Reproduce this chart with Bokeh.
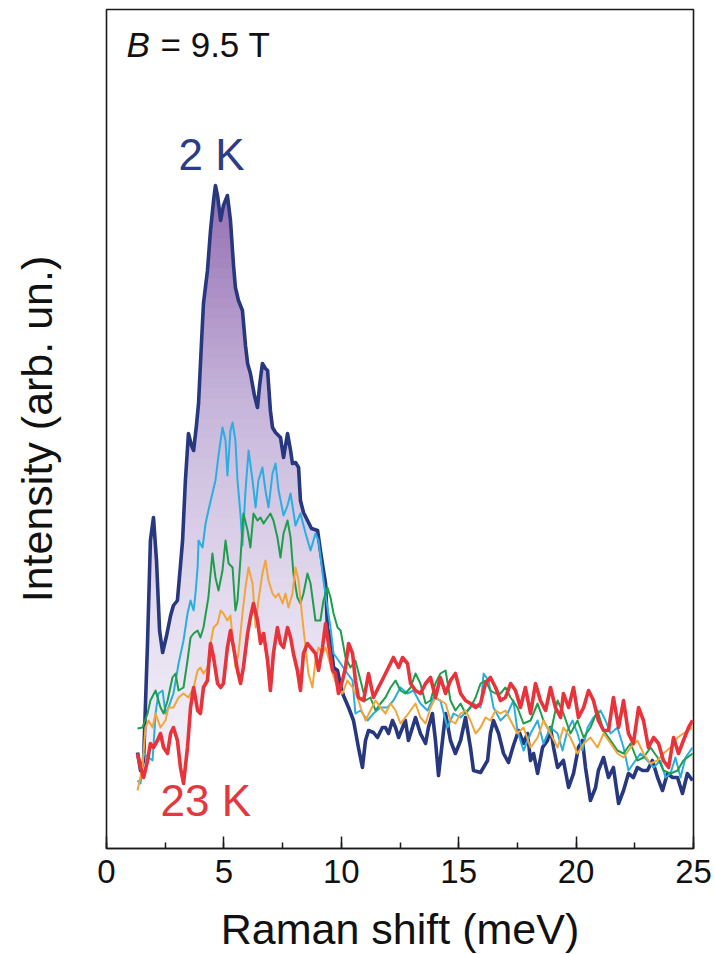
import numpy as np
from bokeh.plotting import figure
from bokeh.layouts import column
from bokeh.models import Range1d, SingleIntervalTicker, FixedTicker
from bokeh.core.properties import value
from bokeh.embed import file_html
from bokeh.resources import INLINE

# Raman spectra at B = 9.5 T: (Raman shift in meV, intensity in arb. units)
SPEC_2K = [
    (1.32, 9.6), (1.45, 7.8), (1.58, 8.8), (1.75, 20.8), (1.87, 30.8), (2.00, 33.1),
    (2.13, 28.8), (2.26, 21.8), (2.39, 19.6), (2.56, 21.3), (2.73, 23.3), (2.85, 24.3),
    (3.02, 24.8), (3.15, 28.3), (3.24, 30.8), (3.36, 36.8), (3.49, 41.5), (3.62, 40.3),
    (3.71, 39.8), (3.83, 42.3), (3.92, 44.5), (4.05, 50.8), (4.13, 54.5), (4.30, 57.8),
    (4.43, 61.8), (4.56, 64.8), (4.64, 66.3), (4.73, 65.3), (4.86, 62.8), (4.98, 64.3),
    (5.15, 65.3), (5.28, 62.8), (5.41, 58.3), (5.49, 56.1), (5.62, 54.8), (5.79, 53.8),
    (5.92, 50.3), (6.01, 48.5), (6.13, 47.5), (6.30, 45.3), (6.43, 44.1), (6.52, 46.3),
    (6.64, 48.5), (6.77, 48.0), (6.86, 47.8), (6.98, 43.8), (7.07, 42.1), (7.20, 41.6),
    (7.41, 41.1), (7.54, 39.1), (7.71, 41.5), (7.84, 39.8), (7.92, 38.5), (8.05, 38.6),
    (8.18, 38.1), (8.26, 34.8), (8.39, 33.6), (8.56, 32.8), (8.73, 32.0), (8.99, 31.8),
    (9.11, 29.8), (9.24, 27.8), (9.33, 26.5), (9.41, 22.1), (9.54, 20.8), (9.67, 18.1),
    (9.84, 17.8), (9.97, 16.3), (10.09, 15.3), (10.31, 14.1), (10.52, 12.8), (10.73, 10.1),
    (10.90, 8.1), (11.03, 10.8), (11.16, 11.8), (11.37, 11.6), (11.54, 11.1), (11.75, 12.1),
    (11.88, 12.1), (12.01, 11.5), (12.18, 12.8), (12.31, 12.1), (12.44, 11.1), (12.61, 12.1),
    (12.73, 12.8), (12.86, 10.8), (13.03, 12.1), (13.16, 13.1), (13.37, 11.5), (13.59, 10.5),
    (13.71, 12.1), (13.88, 13.5), (14.01, 10.8), (14.14, 7.3), (14.31, 10.8), (14.44, 13.5),
    (14.65, 10.8), (14.86, 9.5), (15.08, 10.8), (15.29, 13.1), (15.50, 10.1), (15.63, 7.8),
    (15.93, 7.6), (16.23, 8.8), (16.35, 11.5), (16.48, 12.8), (16.70, 11.5), (16.91, 9.5),
    (17.12, 8.6), (17.33, 10.3), (17.55, 11.8), (17.76, 10.5), (17.93, 11.5), (18.06, 8.8),
    (18.19, 9.5), (18.36, 7.5), (18.57, 10.1), (18.78, 10.8), (18.91, 12.1), (19.04, 10.1),
    (19.21, 8.1), (19.46, 8.8), (19.68, 6.1), (19.89, 7.5), (20.10, 10.1), (20.27, 10.8),
    (20.40, 8.1), (20.61, 4.8), (20.83, 6.1), (20.95, 7.8), (21.17, 9.1), (21.38, 7.1),
    (21.59, 8.1), (21.81, 4.5), (22.02, 5.8), (22.23, 7.5), (22.44, 7.1), (22.61, 8.1),
    (22.83, 7.8), (23.04, 7.8), (23.25, 8.8), (23.47, 7.1), (23.68, 5.8), (23.89, 7.5),
    (24.11, 7.1), (24.32, 7.1), (24.53, 5.5), (24.74, 7.5), (24.96, 6.8),
]

SPEC_CYAN = [
    (1.32, 6.8), (1.45, 6.5), (1.58, 9.5), (1.79, 9.1), (1.96, 8.8), (2.09, 13.5),
    (2.21, 15.5), (2.39, 15.8), (2.51, 13.5), (2.64, 14.1), (2.85, 15.5), (3.07, 18.5),
    (3.28, 20.8), (3.45, 23.5), (3.58, 24.8), (3.71, 23.8), (3.79, 25.5), (3.88, 28.1),
    (3.92, 30.8), (4.09, 30.1), (4.22, 32.5), (4.34, 33.8), (4.51, 35.5), (4.64, 36.8),
    (4.77, 39.3), (4.94, 42.1), (5.07, 40.8), (5.15, 37.3), (5.28, 41.8), (5.37, 42.6),
    (5.49, 40.8), (5.58, 36.8), (5.71, 33.3), (5.79, 30.3), (5.92, 35.8), (6.05, 39.8),
    (6.22, 36.8), (6.35, 34.1), (6.47, 36.8), (6.64, 38.1), (6.77, 35.8), (6.90, 34.1),
    (7.07, 37.5), (7.20, 38.5), (7.33, 35.8), (7.54, 33.3), (7.71, 34.3), (7.84, 35.5),
    (8.05, 32.3), (8.26, 33.5), (8.48, 31.5), (8.69, 29.8), (8.90, 31.5), (9.03, 30.8),
    (9.24, 26.8), (9.41, 24.1), (9.54, 22.1), (9.67, 19.5), (9.97, 18.5), (10.26, 17.5),
    (10.48, 16.8), (10.60, 13.5), (10.82, 13.8), (11.12, 12.8), (11.37, 13.5), (11.67, 14.1),
    (11.97, 14.1), (12.22, 14.8), (12.52, 16.1), (12.82, 15.5), (13.07, 15.8), (13.37, 14.5),
    (13.67, 13.8), (13.93, 15.1), (14.22, 14.8), (14.52, 12.1), (14.78, 13.5), (15.08, 13.1),
    (15.37, 13.8), (15.63, 14.5), (15.93, 14.1), (16.06, 17.5), (16.27, 16.8), (16.48, 14.1),
    (16.78, 12.8), (17.08, 13.5), (17.33, 14.8), (17.50, 11.8), (17.76, 9.8), (18.06, 11.5),
    (18.36, 12.8), (18.61, 10.5), (18.91, 12.1), (19.21, 11.5), (19.42, 9.8), (19.63, 11.8),
    (19.85, 12.8), (20.06, 11.5), (20.27, 9.8), (20.49, 12.1), (20.74, 13.1), (21.04, 13.8),
    (21.25, 12.8), (21.47, 11.5), (21.76, 12.1), (22.02, 10.1), (22.23, 7.8), (22.44, 8.5),
    (22.74, 9.5), (23.04, 8.8), (23.30, 8.1), (23.59, 8.8), (23.81, 7.1), (24.02, 7.5),
    (24.23, 9.1), (24.45, 7.1), (24.66, 9.1), (24.96, 10.1),
]

SPEC_GREEN = [
    (1.32, 12.0), (1.53, 12.1), (1.75, 13.5), (1.87, 14.8), (2.09, 15.8), (2.30, 14.1),
    (2.43, 13.5), (2.60, 14.8), (2.81, 17.1), (2.94, 17.5), (3.07, 15.8), (3.28, 16.1),
    (3.45, 18.8), (3.58, 21.1), (3.71, 21.5), (3.88, 21.8), (4.00, 21.1), (4.13, 22.1),
    (4.34, 25.1), (4.51, 29.5), (4.64, 27.1), (4.77, 25.8), (4.94, 27.8), (5.07, 30.8),
    (5.20, 28.5), (5.37, 28.1), (5.49, 23.8), (5.58, 24.8), (5.71, 29.1), (5.83, 33.5),
    (6.01, 31.8), (6.13, 30.1), (6.26, 33.5), (6.43, 32.8), (6.56, 33.1), (6.69, 32.5),
    (6.86, 33.1), (6.98, 33.5), (7.11, 32.8), (7.28, 31.1), (7.41, 29.1), (7.54, 31.5),
    (7.71, 32.8), (7.84, 31.1), (7.96, 27.5), (8.13, 25.1), (8.26, 24.5), (8.39, 25.5),
    (8.56, 27.5), (8.69, 26.5), (8.90, 22.8), (9.11, 22.8), (9.24, 24.8), (9.41, 26.1),
    (9.54, 25.1), (9.67, 23.5), (9.84, 22.1), (9.97, 21.8), (10.18, 19.1), (10.39, 18.1),
    (10.60, 18.8), (10.82, 16.8), (11.03, 14.8), (11.24, 15.1), (11.46, 13.8), (11.67, 14.5),
    (11.88, 15.1), (12.10, 16.1), (12.31, 16.8), (12.52, 15.8), (12.73, 15.5), (12.95, 16.1),
    (13.16, 17.5), (13.37, 16.5), (13.59, 14.5), (13.80, 14.8), (14.01, 16.5), (14.22, 17.5),
    (14.44, 17.8), (14.65, 14.8), (14.86, 13.8), (15.08, 14.5), (15.29, 13.5), (15.50, 14.1),
    (15.72, 15.1), (15.93, 16.5), (16.14, 16.8), (16.35, 15.8), (16.57, 15.5), (16.78, 15.5),
    (16.99, 16.1), (17.21, 15.1), (17.50, 14.1), (17.76, 12.5), (18.06, 12.8), (18.36, 14.5),
    (18.61, 12.8), (18.91, 11.5), (19.21, 14.8), (19.46, 13.5), (19.76, 11.5), (20.06, 12.8),
    (20.32, 11.1), (20.61, 12.1), (20.91, 13.8), (21.17, 11.8), (21.47, 10.8), (21.76, 9.8),
    (22.02, 9.5), (22.32, 10.5), (22.61, 8.8), (22.87, 9.1), (23.17, 10.1), (23.47, 9.1),
    (23.72, 7.8), (24.02, 7.5), (24.32, 7.8), (24.57, 8.8), (24.96, 9.5),
]

SPEC_ORANGE = [
    (1.32, 5.8), (1.53, 8.1), (1.66, 12.1), (1.79, 12.8), (1.96, 12.1), (2.09, 13.5),
    (2.30, 12.1), (2.51, 12.8), (2.64, 14.1), (2.85, 14.1), (3.07, 15.1), (3.28, 15.5),
    (3.49, 15.1), (3.71, 16.1), (3.88, 17.8), (4.00, 18.1), (4.13, 17.5), (4.30, 18.1),
    (4.43, 20.5), (4.56, 22.1), (4.73, 22.5), (4.86, 23.8), (4.98, 23.5), (5.15, 22.8),
    (5.28, 23.3), (5.49, 18.1), (5.62, 19.5), (5.79, 23.5), (5.92, 26.1), (6.05, 28.1),
    (6.22, 26.5), (6.35, 22.1), (6.47, 24.8), (6.64, 27.5), (6.77, 28.8), (6.90, 26.8),
    (7.07, 25.5), (7.20, 25.1), (7.33, 25.5), (7.50, 24.5), (7.62, 25.5), (7.75, 24.1),
    (7.92, 25.5), (8.05, 28.1), (8.18, 26.8), (8.35, 22.8), (8.48, 20.1), (8.60, 17.5),
    (8.77, 16.1), (8.90, 18.8), (9.03, 20.1), (9.20, 19.5), (9.33, 20.1), (9.45, 19.1),
    (9.63, 17.5), (9.84, 16.1), (10.05, 15.5), (10.26, 16.8), (10.48, 16.1), (10.69, 15.1),
    (10.82, 14.1), (11.03, 12.8), (11.24, 13.8), (11.46, 14.8), (11.67, 14.1), (11.88, 13.5),
    (12.10, 14.5), (12.31, 13.8), (12.52, 12.5), (12.73, 13.1), (12.95, 13.8), (13.16, 14.5),
    (13.37, 13.1), (13.59, 12.5), (13.80, 14.1), (14.01, 15.1), (14.22, 14.8), (14.44, 14.5),
    (14.65, 12.8), (14.86, 12.5), (15.08, 13.5), (15.29, 13.8), (15.50, 12.8), (15.72, 11.5),
    (15.93, 12.1), (16.14, 13.1), (16.35, 12.8), (16.57, 13.8), (16.78, 13.5), (16.99, 13.8),
    (17.21, 12.8), (17.50, 11.5), (17.76, 12.1), (18.06, 10.1), (18.36, 11.1), (18.61, 12.8),
    (18.91, 11.5), (19.21, 10.1), (19.46, 12.1), (19.76, 11.1), (20.06, 9.5), (20.32, 10.5),
    (20.61, 11.1), (20.91, 10.1), (21.17, 11.5), (21.47, 10.5), (21.76, 9.5), (22.02, 9.1),
    (22.32, 10.1), (22.61, 10.8), (22.87, 9.5), (23.17, 8.5), (23.47, 8.8), (23.72, 9.5),
    (24.02, 10.1), (24.32, 11.1), (24.57, 11.5), (24.96, 12.1),
]

SPEC_23K = [
    (1.32, 9.5), (1.45, 8.1), (1.58, 7.1), (1.75, 8.8), (1.87, 10.5), (2.00, 10.1),
    (2.17, 10.8), (2.30, 11.5), (2.43, 10.1), (2.60, 9.5), (2.73, 11.5), (2.85, 12.1),
    (3.02, 10.8), (3.15, 8.1), (3.28, 6.5), (3.45, 10.1), (3.58, 14.1), (3.71, 16.1),
    (3.88, 13.8), (4.00, 13.5), (4.13, 16.1), (4.30, 16.8), (4.43, 20.5), (4.56, 19.1),
    (4.73, 16.5), (4.86, 16.1), (4.98, 16.5), (5.15, 20.1), (5.28, 21.8), (5.41, 20.1),
    (5.58, 17.8), (5.71, 16.5), (5.83, 18.1), (6.01, 21.5), (6.13, 23.1), (6.26, 24.5),
    (6.43, 22.8), (6.56, 20.5), (6.69, 21.5), (6.86, 18.8), (6.98, 15.8), (7.11, 19.5),
    (7.28, 22.1), (7.41, 20.5), (7.54, 20.1), (7.71, 22.1), (7.84, 21.1), (7.96, 19.5),
    (8.13, 17.8), (8.26, 15.8), (8.39, 19.5), (8.56, 20.5), (8.69, 20.1), (8.90, 19.5),
    (9.03, 17.8), (9.20, 20.1), (9.33, 22.5), (9.45, 20.5), (9.63, 17.8), (9.75, 17.5),
    (9.88, 15.5), (10.05, 16.8), (10.18, 18.1), (10.31, 20.5), (10.48, 19.5), (10.60, 16.8),
    (10.73, 15.1), (10.95, 14.8), (11.16, 17.5), (11.37, 15.1), (11.58, 16.1), (11.80, 17.1),
    (12.01, 18.1), (12.22, 19.1), (12.44, 18.1), (12.61, 19.1), (12.82, 18.5), (12.95, 16.5),
    (13.16, 15.8), (13.37, 15.5), (13.59, 16.5), (13.80, 17.1), (14.01, 15.1), (14.22, 17.1),
    (14.44, 15.5), (14.65, 16.8), (14.86, 17.5), (15.08, 15.5), (15.29, 14.8), (15.50, 14.5),
    (15.72, 14.1), (15.93, 14.5), (16.14, 16.5), (16.35, 17.1), (16.57, 16.1), (16.78, 14.8),
    (16.99, 15.1), (17.21, 16.5), (17.42, 15.8), (17.63, 14.1), (17.84, 16.1), (18.06, 13.5),
    (18.27, 16.5), (18.48, 14.8), (18.70, 13.8), (18.91, 16.1), (19.12, 14.1), (19.34, 13.1),
    (19.46, 15.5), (19.68, 14.1), (19.89, 16.1), (20.10, 13.1), (20.32, 14.1), (20.53, 15.8),
    (20.74, 14.8), (20.95, 12.8), (21.17, 11.8), (21.38, 11.8), (21.59, 15.1), (21.81, 12.1),
    (22.02, 14.8), (22.23, 11.5), (22.44, 10.5), (22.66, 14.1), (22.87, 12.8), (23.08, 10.1),
    (23.30, 11.1), (23.51, 10.5), (23.72, 8.8), (23.94, 8.1), (24.15, 11.1), (24.36, 9.5),
    (24.57, 10.8), (24.79, 12.1), (24.96, 12.8),
]

FONT = "Liberation Sans"
NAVY = "#27387f"
CYAN = "#2aaee2"
GREEN = "#1e9e4c"
ORANGE = "#f2a53a"
RED = "#e8333b"


def unzip(pairs):
    xs, ys = zip(*pairs)
    return np.array(xs), np.array(ys)


p = figure(
    width=715, height=900,
    x_range=Range1d(0, 25), y_range=Range1d(0, 83.9),
    output_backend="svg", toolbar_location=None,
    min_border_left=106, min_border_right=22,
    min_border_top=9, min_border_bottom=52,
)
p.background_fill_color = "white"
p.border_fill_color = "white"
p.outline_line_color = "#1a1a1a"
p.outline_line_width = 1.6
p.xgrid.visible = False
p.ygrid.visible = False

# bottom axis: inward ticks, one minor tick between majors
xa = p.xaxis[0]
xa.ticker = SingleIntervalTicker(interval=5, num_minor_ticks=2)
xa.major_tick_in = 12
xa.major_tick_out = 0
xa.minor_tick_in = 6
xa.minor_tick_out = 0
xa.major_tick_line_width = 1.5
xa.minor_tick_line_width = 1.5
xa.major_tick_line_color = "#1a1a1a"
xa.minor_tick_line_color = "#1a1a1a"
xa.axis_line_color = "#1a1a1a"
xa.axis_line_width = 1.6
xa.major_label_text_font = FONT
xa.major_label_text_font_size = "33px"
xa.major_label_text_color = "#111111"
xa.major_label_standoff = 11

# left axis: label only
ya = p.yaxis[0]
ya.ticker = FixedTicker(ticks=[])
ya.major_tick_line_color = None
ya.minor_tick_line_color = None
ya.major_label_text_font_size = "0px"
ya.axis_line_color = None
ya.axis_label = "Intensity (arb. un.)"
ya.axis_label_text_font = FONT
ya.axis_label_text_font_size = "43px"
ya.axis_label_text_font_style = "normal"
ya.axis_label_text_color = "#111111"
ya.axis_label_standoff = 46

x2, y2 = unzip(SPEC_2K)
xc, yc = unzip(SPEC_CYAN)
xg, yg = unzip(SPEC_GREEN)
xo, yo = unzip(SPEC_ORANGE)
x23, y23 = unzip(SPEC_23K)

# shaded area between the 2 K and 23 K spectra, purple fading downwards
grid = np.linspace(x2[0], 10.4, 800)
upper = np.interp(grid, x2, y2)
lower = np.minimum(np.interp(grid, x23, y23), upper)

stops_y = [0.0, 8.0, 25.0, 45.0, 67.0]
stops_rgb = np.array([
    [248, 247, 252],
    [244, 242, 249],
    [227, 219, 238],
    [198, 180, 218],
    [145, 107, 176],
])
levels = np.arange(0.0, 68.0, 1.0)
for a in levels:
    b = a + 1.0
    mid = a + 0.5
    rgb = [int(round(np.interp(mid, stops_y, stops_rgb[:, k]))) for k in range(3)]
    col = "#%02x%02x%02x" % tuple(rgb)
    top = np.clip(upper, a, b + 0.12)
    bot = np.clip(lower, a, b + 0.12)
    if np.all(top - bot <= 1e-9):
        continue
    p.varea(x=grid, y1=bot, y2=top, fill_color=col, fill_alpha=1.0)

p.line(x2, y2, line_color=NAVY, line_width=3.6, line_join="round")
p.line(xc, yc, line_color=CYAN, line_width=2.0, line_join="round")
p.line(xg, yg, line_color=GREEN, line_width=2.0, line_join="round")
p.line(xo, yo, line_color=ORANGE, line_width=2.0, line_join="round")
p.line(x23, y23, line_color=RED, line_width=3.6, line_join="round")

# annotations
p.text(x=[0.85], y=[80.4], text=["B"], text_font=value(FONT), text_font_size="35px",
       text_font_style="italic", text_color="#111111", text_baseline="alphabetic")
p.text(x=[2.30], y=[80.4], text=["= 9.5 T"], text_font=value(FONT), text_font_size="35px",
       text_color="#111111", text_baseline="alphabetic")
p.text(x=[3.07], y=[69.4], text=["2 K"], text_font=value(FONT), text_font_size="44px",
       text_color="#2b3d86", text_baseline="alphabetic")
p.text(x=[2.30], y=[4.8], text=["23 K"], text_font=value(FONT), text_font_size="44px",
       text_color="#e43840", text_baseline="alphabetic")

# strip underneath carrying the x-axis title, aligned with the plot frame
title_strip = figure(
    width=715, height=54,
    x_range=p.x_range, y_range=Range1d(0, 1),
    output_backend="svg", toolbar_location=None,
    min_border_left=106, min_border_right=22,
    min_border_top=0, min_border_bottom=0,
)
title_strip.axis.visible = False
title_strip.xgrid.visible = False
title_strip.ygrid.visible = False
title_strip.outline_line_color = None
title_strip.background_fill_color = "white"
title_strip.border_fill_color = "white"
title_strip.text(x=[12.5], y=[0.47], text=["Raman shift (meV)"], text_font=value(FONT),
                 text_font_size="43px", text_color="#111111", text_align="center",
                 text_baseline="middle")

layout = column(p, title_strip, spacing=0)
open("out.html", "w").write(file_html(layout, INLINE))
